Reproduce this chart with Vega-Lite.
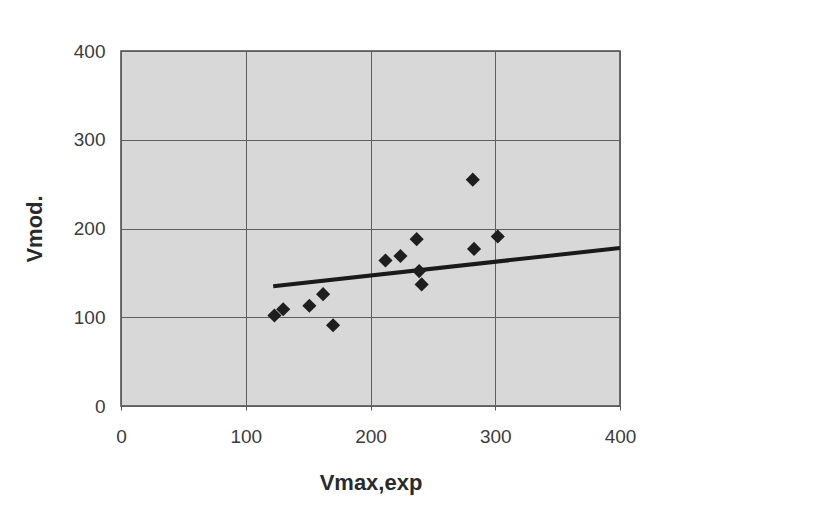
{
  "$schema": "https://vega.github.io/schema/vega-lite/v6.json",
  "width": 499,
  "height": 355,
  "autosize": {"type": "none"},
  "padding": {"left": 121, "top": 51, "right": 219, "bottom": 101},
  "background": "#ffffff",
  "config": {
    "font": "Liberation Sans",
    "view": {"fill": "#d8d8d8", "stroke": "#454545", "strokeWidth": 1.5},
    "axis": {
      "grid": true,
      "gridColor": "#5e5e5e",
      "gridWidth": 1,
      "gridOpacity": 1,
      "domain": false,
      "tickColor": "#555555",
      "tickSize": 4,
      "labelFont": "Liberation Sans",
      "labelFontSize": 19,
      "labelColor": "#3c3c3c",
      "titleFont": "Liberation Sans",
      "titleColor": "#2a2a2a",
      "titleFontWeight": "bold",
      "titleFontSize": 22
    }
  },
  "datasets": {
    "measured": [
      {"v_exp": 123, "v_mod": 102},
      {"v_exp": 130, "v_mod": 109},
      {"v_exp": 151, "v_mod": 113},
      {"v_exp": 162, "v_mod": 126},
      {"v_exp": 170, "v_mod": 91},
      {"v_exp": 212, "v_mod": 164},
      {"v_exp": 224, "v_mod": 169},
      {"v_exp": 237, "v_mod": 188},
      {"v_exp": 239, "v_mod": 152},
      {"v_exp": 241, "v_mod": 137},
      {"v_exp": 282, "v_mod": 255},
      {"v_exp": 283, "v_mod": 177},
      {"v_exp": 302, "v_mod": 191}
    ],
    "trend": [
      {"v_exp": 122, "v_mod": 135},
      {"v_exp": 400, "v_mod": 178}
    ]
  },
  "layer": [
    {
      "data": {"name": "trend"},
      "mark": {"type": "line", "color": "#1a1a1a", "strokeWidth": 4},
      "encoding": {
        "x": {
          "field": "v_exp",
          "type": "quantitative",
          "scale": {"domain": [0, 400], "nice": false},
          "axis": {
            "values": [0, 100, 200, 300, 400],
            "labelFlush": false,
            "labelPadding": 17,
            "title": "Vmax,exp",
            "titlePadding": 26
          }
        },
        "y": {
          "field": "v_mod",
          "type": "quantitative",
          "scale": {"domain": [0, 400], "nice": false},
          "axis": {
            "values": [0, 100, 200, 300, 400],
            "labelFlush": false,
            "ticks": false,
            "labelPadding": 16,
            "title": "Vmod.",
            "titlePadding": 27
          }
        }
      }
    },
    {
      "data": {"name": "measured"},
      "mark": {"type": "point", "shape": "diamond", "filled": true, "color": "#1e1e1e", "size": 200, "opacity": 1},
      "encoding": {
        "x": {"field": "v_exp", "type": "quantitative"},
        "y": {"field": "v_mod", "type": "quantitative"}
      }
    }
  ]
}
